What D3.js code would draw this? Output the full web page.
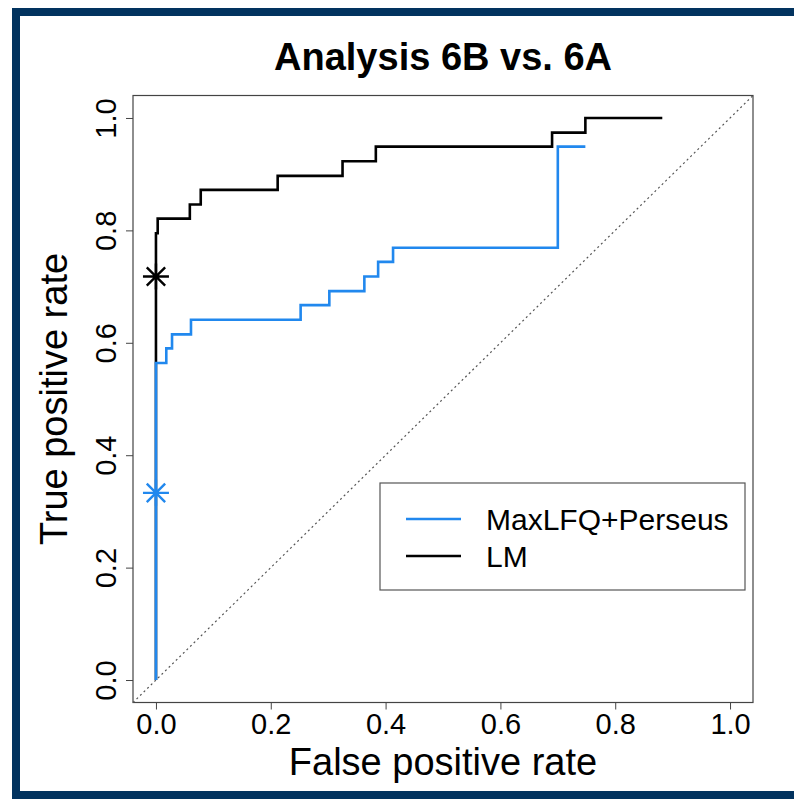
<!DOCTYPE html>
<html>
<head>
<meta charset="utf-8">
<script src="https://cdn.jsdelivr.net/npm/d3@7"></script>
<style>
  body { margin: 0; background: #fff; }
  text { font-family: "Liberation Sans", Arial, Helvetica, sans-serif; fill: #000; }
</style>
</head>
<body>
<div id="chart"></div>
<script>
"use strict";

// ---------------------------- DATA ----------------------------
const title = "Analysis 6B vs. 6A";
const xTitle = "False positive rate";
const yTitle = "True positive rate";
const ticks = [0, 0.2, 0.4, 0.6, 0.8, 1.0];

// ROC corners (step after), MaxLFQ+Perseus
const perseusFpr = [0, 0, 0.018, 0.028, 0.061, 0.252, 0.302, 0.363, 0.387, 0.413, 0.700, 0.748];
const perseusTpr = [0, 0.564, 0.590, 0.615, 0.641, 0.667, 0.692, 0.718, 0.744, 0.769, 0.949, 0.949];

// ROC corners (step after), LM
const lmFpr = [0, 0, 0.003, 0.059, 0.078, 0.212, 0.325, 0.383, 0.690, 0.748, 0.882];
const lmTpr = [0, 0.795, 0.821, 0.846, 0.872, 0.897, 0.923, 0.949, 0.974, 1.0, 1.0];

// cutoff markers
const markFpr = [0, 0];
const markTpr = [0.718, 0.333];

const seriesNames = ["MaxLFQ+Perseus", "LM"];
const seriesColors = ["#2188ee", "#000000"];

// ---------------------------- SVG -----------------------------
const width = 794;
const height = 799;
const box = { left: 133, right: 753, top: 95.5, bottom: 702.5 };

const svg = d3.select("#chart").append("svg")
    .attr("width", width)
    .attr("height", height);

// slide frame
const navy = "#02335f";
svg.append("rect").attr("x", 12).attr("y", 8).attr("width", width - 12).attr("height", 8).attr("fill", navy);
svg.append("rect").attr("x", 12).attr("y", 8).attr("width", 8).attr("height", height - 8).attr("fill", navy);
svg.append("rect").attr("x", 12).attr("y", 791).attr("width", width - 12).attr("height", 8).attr("fill", navy);

// --------------------------- SCALES ---------------------------
const x = d3.scaleLinear().domain([-0.04, 1.04]).range([box.left, box.right]);
const y = d3.scaleLinear().domain([-0.04, 1.04]).range([box.bottom, box.top]);

// ---------------------------- AXES ----------------------------
const xAxis = svg.append("g")
    .attr("transform", `translate(0,${box.bottom})`)
    .call(d3.axisBottom(x).tickValues(ticks).tickFormat(d3.format(".1f")).tickSize(7).tickPadding(4));
xAxis.select(".domain").remove();
xAxis.selectAll("line").attr("stroke", "#444");
xAxis.selectAll("text")
    .attr("font-size", 29)
    .attr("dy", null)
    .attr("y", 31)
    .attr("font-family", "Liberation Sans, Arial, sans-serif");

const yAxis = svg.append("g")
    .attr("transform", `translate(${box.left},0)`)
    .call(d3.axisLeft(y).tickValues(ticks).tickFormat(d3.format(".1f")).tickSize(7));
yAxis.select(".domain").remove();
yAxis.selectAll("line").attr("stroke", "#444");
yAxis.selectAll("text")
    .attr("font-size", 29)
    .attr("x", null).attr("dy", null)
    .attr("text-anchor", "middle")
    .attr("transform", "translate(-17,0) rotate(-90)")
    .attr("font-family", "Liberation Sans, Arial, sans-serif");

// plot box
svg.append("rect")
    .attr("x", box.left).attr("y", box.top)
    .attr("width", box.right - box.left).attr("height", box.bottom - box.top)
    .attr("fill", "none").attr("stroke", "#444").attr("stroke-width", 1.2);

// diagonal reference
svg.append("line")
    .attr("x1", x(-0.04)).attr("y1", y(-0.04))
    .attr("x2", x(1.04)).attr("y2", y(1.04))
    .attr("stroke", "#555").attr("stroke-width", 1.2)
    .attr("stroke-dasharray", "2,3");

// titles
svg.append("text")
    .attr("x", (box.left + box.right) / 2).attr("y", 70)
    .attr("text-anchor", "middle")
    .attr("font-size", 38).attr("font-weight", "bold")
    .text(title);

svg.append("text")
    .attr("x", (box.left + box.right) / 2).attr("y", 775)
    .attr("text-anchor", "middle")
    .attr("font-size", 38)
    .text(xTitle);

svg.append("text")
    .attr("transform", `translate(67,${(box.top + box.bottom) / 2}) rotate(-90)`)
    .attr("text-anchor", "middle")
    .attr("font-size", 38)
    .text(yTitle);

// ---------------------------- LINES ---------------------------
const line = d3.line()
    .x(d => x(d[0]))
    .y(d => y(d[1]))
    .curve(d3.curveStepAfter);

const curves = [
    d3.zip(lmFpr, lmTpr),
    d3.zip(perseusFpr, perseusTpr)
];
const curveColors = [seriesColors[1], seriesColors[0]];

svg.selectAll(".roc")
    .data(curves)
    .enter()
    .append("path")
    .attr("class", "roc")
    .attr("d", line)
    .attr("fill", "none")
    .attr("stroke", (d, i) => curveColors[i])
    .attr("stroke-width", 2.6);

// asterisk markers (pch 8)
const r = 13;
const star = "M" + (-r) + ",0H" + r + "M0," + (-r) + "V" + r +
    "M" + (-r * 0.707) + "," + (-r * 0.707) + "L" + (r * 0.707) + "," + (r * 0.707) +
    "M" + (-r * 0.707) + "," + (r * 0.707) + "L" + (r * 0.707) + "," + (-r * 0.707);
svg.selectAll(".mark")
    .data(d3.zip(markFpr, markTpr))
    .enter()
    .append("path")
    .attr("class", "mark")
    .attr("transform", d => `translate(${x(d[0])},${y(d[1])})`)
    .attr("d", star)
    .attr("fill", "none")
    .attr("stroke", (d, i) => i === 0 ? seriesColors[1] : seriesColors[0])
    .attr("stroke-width", 2.4);

// --------------------------- LEGEND ---------------------------
const legend = svg.append("g");
legend.append("rect")
    .attr("x", 380).attr("y", 483)
    .attr("width", 365).attr("height", 107)
    .attr("fill", "#fff").attr("stroke", "#555").attr("stroke-width", 1.2);

const rows = legend.selectAll(".row")
    .data(seriesNames)
    .enter()
    .append("g")
    .attr("transform", (d, i) => `translate(0,${519 + i * 37})`);
rows.append("line")
    .attr("x1", 406).attr("x2", 461)
    .attr("stroke", (d, i) => seriesColors[i])
    .attr("stroke-width", 2.6);
rows.append("text")
    .attr("x", 486).attr("y", 0)
    .attr("dy", "0.36em")
    .attr("font-size", 30)
    .text(d => d);
</script>
</body>
</html>
